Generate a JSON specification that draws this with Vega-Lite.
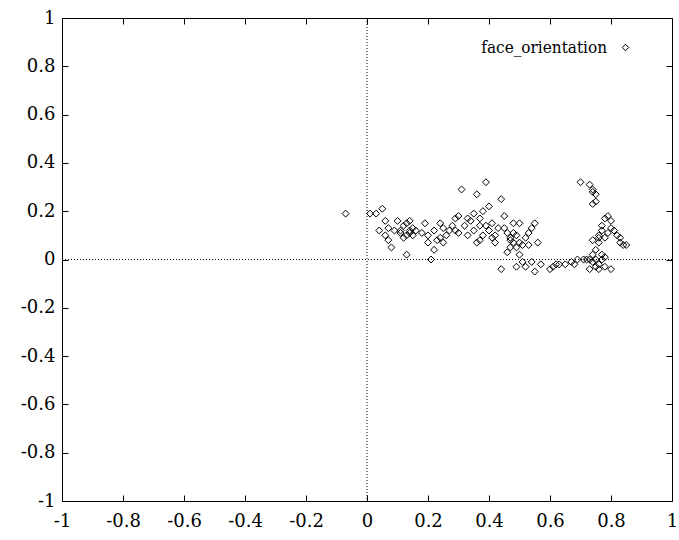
{
  "$schema": "https://vega.github.io/schema/vega-lite/v6.json",
  "width": 610,
  "height": 483,
  "autosize": {"type": "none"},
  "padding": {"left": 62, "top": 18, "right": 7, "bottom": 39},
  "background": "white",
  "config": {
    "view": {"stroke": "black", "strokeWidth": 1},
    "axis": {
      "grid": false,
      "domainColor": "black",
      "tickColor": "black",
      "tickWidth": 1,
      "labelColor": "black",
      "labelFont": "DejaVu Serif",
      "labelFontSize": 18,
      "tickSize": -6,
      "labelExpr": "datum.value + ''",
      "title": null
    }
  },
  "datasets": {
    "pts": [
      {"x": -0.07, "y": 0.19, "series": "face_orientation"},
      {"x": 0.01, "y": 0.19, "series": "face_orientation"},
      {"x": 0.03, "y": 0.19, "series": "face_orientation"},
      {"x": 0.05, "y": 0.21, "series": "face_orientation"},
      {"x": 0.04, "y": 0.12, "series": "face_orientation"},
      {"x": 0.06, "y": 0.10, "series": "face_orientation"},
      {"x": 0.07, "y": 0.08, "series": "face_orientation"},
      {"x": 0.08, "y": 0.05, "series": "face_orientation"},
      {"x": 0.06, "y": 0.16, "series": "face_orientation"},
      {"x": 0.07, "y": 0.13, "series": "face_orientation"},
      {"x": 0.10, "y": 0.16, "series": "face_orientation"},
      {"x": 0.11, "y": 0.12, "series": "face_orientation"},
      {"x": 0.12, "y": 0.14, "series": "face_orientation"},
      {"x": 0.13, "y": 0.10, "series": "face_orientation"},
      {"x": 0.13, "y": 0.15, "series": "face_orientation"},
      {"x": 0.14, "y": 0.11, "series": "face_orientation"},
      {"x": 0.15, "y": 0.13, "series": "face_orientation"},
      {"x": 0.14, "y": 0.16, "series": "face_orientation"},
      {"x": 0.12, "y": 0.09, "series": "face_orientation"},
      {"x": 0.09, "y": 0.12, "series": "face_orientation"},
      {"x": 0.13, "y": 0.02, "series": "face_orientation"},
      {"x": 0.16, "y": 0.12, "series": "face_orientation"},
      {"x": 0.15, "y": 0.10, "series": "face_orientation"},
      {"x": 0.11, "y": 0.11, "series": "face_orientation"},
      {"x": 0.14, "y": 0.12, "series": "face_orientation"},
      {"x": 0.18, "y": 0.11, "series": "face_orientation"},
      {"x": 0.19, "y": 0.15, "series": "face_orientation"},
      {"x": 0.20, "y": 0.10, "series": "face_orientation"},
      {"x": 0.20, "y": 0.07, "series": "face_orientation"},
      {"x": 0.21, "y": 0.00, "series": "face_orientation"},
      {"x": 0.22, "y": 0.12, "series": "face_orientation"},
      {"x": 0.23, "y": 0.08, "series": "face_orientation"},
      {"x": 0.24, "y": 0.09, "series": "face_orientation"},
      {"x": 0.25, "y": 0.07, "series": "face_orientation"},
      {"x": 0.22, "y": 0.04, "series": "face_orientation"},
      {"x": 0.24, "y": 0.15, "series": "face_orientation"},
      {"x": 0.25, "y": 0.13, "series": "face_orientation"},
      {"x": 0.26, "y": 0.10, "series": "face_orientation"},
      {"x": 0.27, "y": 0.12, "series": "face_orientation"},
      {"x": 0.28, "y": 0.14, "series": "face_orientation"},
      {"x": 0.29, "y": 0.17, "series": "face_orientation"},
      {"x": 0.29, "y": 0.12, "series": "face_orientation"},
      {"x": 0.30, "y": 0.18, "series": "face_orientation"},
      {"x": 0.31, "y": 0.29, "series": "face_orientation"},
      {"x": 0.30, "y": 0.11, "series": "face_orientation"},
      {"x": 0.32, "y": 0.14, "series": "face_orientation"},
      {"x": 0.33, "y": 0.17, "series": "face_orientation"},
      {"x": 0.34, "y": 0.16, "series": "face_orientation"},
      {"x": 0.35, "y": 0.19, "series": "face_orientation"},
      {"x": 0.36, "y": 0.27, "series": "face_orientation"},
      {"x": 0.37, "y": 0.14, "series": "face_orientation"},
      {"x": 0.38, "y": 0.10, "series": "face_orientation"},
      {"x": 0.39, "y": 0.32, "series": "face_orientation"},
      {"x": 0.38, "y": 0.20, "series": "face_orientation"},
      {"x": 0.40, "y": 0.22, "series": "face_orientation"},
      {"x": 0.37, "y": 0.17, "series": "face_orientation"},
      {"x": 0.33, "y": 0.10, "series": "face_orientation"},
      {"x": 0.35, "y": 0.12, "series": "face_orientation"},
      {"x": 0.36, "y": 0.07, "series": "face_orientation"},
      {"x": 0.37, "y": 0.08, "series": "face_orientation"},
      {"x": 0.40, "y": 0.12, "series": "face_orientation"},
      {"x": 0.41, "y": 0.15, "series": "face_orientation"},
      {"x": 0.42, "y": 0.10, "series": "face_orientation"},
      {"x": 0.42, "y": 0.07, "series": "face_orientation"},
      {"x": 0.43, "y": 0.13, "series": "face_orientation"},
      {"x": 0.41, "y": 0.09, "series": "face_orientation"},
      {"x": 0.39, "y": 0.14, "series": "face_orientation"},
      {"x": 0.44, "y": 0.25, "series": "face_orientation"},
      {"x": 0.45, "y": 0.18, "series": "face_orientation"},
      {"x": 0.45, "y": 0.13, "series": "face_orientation"},
      {"x": 0.46, "y": 0.11, "series": "face_orientation"},
      {"x": 0.47, "y": 0.09, "series": "face_orientation"},
      {"x": 0.47, "y": 0.05, "series": "face_orientation"},
      {"x": 0.48, "y": 0.07, "series": "face_orientation"},
      {"x": 0.49, "y": 0.10, "series": "face_orientation"},
      {"x": 0.48, "y": 0.15, "series": "face_orientation"},
      {"x": 0.50, "y": 0.15, "series": "face_orientation"},
      {"x": 0.46, "y": 0.03, "series": "face_orientation"},
      {"x": 0.44, "y": -0.04, "series": "face_orientation"},
      {"x": 0.47, "y": 0.08, "series": "face_orientation"},
      {"x": 0.48, "y": 0.11, "series": "face_orientation"},
      {"x": 0.49, "y": 0.05, "series": "face_orientation"},
      {"x": 0.50, "y": 0.07, "series": "face_orientation"},
      {"x": 0.51, "y": 0.06, "series": "face_orientation"},
      {"x": 0.52, "y": 0.09, "series": "face_orientation"},
      {"x": 0.53, "y": 0.11, "series": "face_orientation"},
      {"x": 0.54, "y": 0.13, "series": "face_orientation"},
      {"x": 0.55, "y": 0.15, "series": "face_orientation"},
      {"x": 0.53, "y": 0.06, "series": "face_orientation"},
      {"x": 0.56, "y": 0.07, "series": "face_orientation"},
      {"x": 0.50, "y": 0.02, "series": "face_orientation"},
      {"x": 0.51, "y": -0.01, "series": "face_orientation"},
      {"x": 0.52, "y": -0.03, "series": "face_orientation"},
      {"x": 0.54, "y": -0.01, "series": "face_orientation"},
      {"x": 0.55, "y": -0.05, "series": "face_orientation"},
      {"x": 0.57, "y": -0.02, "series": "face_orientation"},
      {"x": 0.49, "y": -0.03, "series": "face_orientation"},
      {"x": 0.60, "y": -0.04, "series": "face_orientation"},
      {"x": 0.61, "y": -0.03, "series": "face_orientation"},
      {"x": 0.62, "y": -0.02, "series": "face_orientation"},
      {"x": 0.63, "y": -0.02, "series": "face_orientation"},
      {"x": 0.65, "y": -0.02, "series": "face_orientation"},
      {"x": 0.67, "y": -0.01, "series": "face_orientation"},
      {"x": 0.68, "y": -0.02, "series": "face_orientation"},
      {"x": 0.69, "y": 0.00, "series": "face_orientation"},
      {"x": 0.70, "y": 0.32, "series": "face_orientation"},
      {"x": 0.71, "y": 0.00, "series": "face_orientation"},
      {"x": 0.73, "y": 0.31, "series": "face_orientation"},
      {"x": 0.74, "y": 0.29, "series": "face_orientation"},
      {"x": 0.74, "y": 0.28, "series": "face_orientation"},
      {"x": 0.75, "y": 0.27, "series": "face_orientation"},
      {"x": 0.75, "y": 0.24, "series": "face_orientation"},
      {"x": 0.74, "y": 0.23, "series": "face_orientation"},
      {"x": 0.73, "y": 0.00, "series": "face_orientation"},
      {"x": 0.74, "y": -0.01, "series": "face_orientation"},
      {"x": 0.74, "y": 0.02, "series": "face_orientation"},
      {"x": 0.75, "y": 0.04, "series": "face_orientation"},
      {"x": 0.76, "y": 0.07, "series": "face_orientation"},
      {"x": 0.76, "y": 0.09, "series": "face_orientation"},
      {"x": 0.77, "y": 0.12, "series": "face_orientation"},
      {"x": 0.77, "y": 0.14, "series": "face_orientation"},
      {"x": 0.78, "y": 0.17, "series": "face_orientation"},
      {"x": 0.79, "y": 0.18, "series": "face_orientation"},
      {"x": 0.80, "y": 0.16, "series": "face_orientation"},
      {"x": 0.80, "y": 0.13, "series": "face_orientation"},
      {"x": 0.81, "y": 0.12, "series": "face_orientation"},
      {"x": 0.79, "y": 0.11, "series": "face_orientation"},
      {"x": 0.78, "y": 0.09, "series": "face_orientation"},
      {"x": 0.82, "y": 0.10, "series": "face_orientation"},
      {"x": 0.83, "y": 0.09, "series": "face_orientation"},
      {"x": 0.83, "y": 0.07, "series": "face_orientation"},
      {"x": 0.84, "y": 0.06, "series": "face_orientation"},
      {"x": 0.85, "y": 0.06, "series": "face_orientation"},
      {"x": 0.73, "y": -0.04, "series": "face_orientation"},
      {"x": 0.75, "y": -0.03, "series": "face_orientation"},
      {"x": 0.76, "y": -0.02, "series": "face_orientation"},
      {"x": 0.77, "y": 0.00, "series": "face_orientation"},
      {"x": 0.77, "y": 0.02, "series": "face_orientation"},
      {"x": 0.78, "y": 0.01, "series": "face_orientation"},
      {"x": 0.76, "y": -0.04, "series": "face_orientation"},
      {"x": 0.78, "y": -0.03, "series": "face_orientation"},
      {"x": 0.80, "y": -0.04, "series": "face_orientation"},
      {"x": 0.72, "y": 0.00, "series": "face_orientation"},
      {"x": 0.75, "y": 0.00, "series": "face_orientation"},
      {"x": 0.76, "y": 0.10, "series": "face_orientation"},
      {"x": 0.74, "y": 0.08, "series": "face_orientation"}
    ],
    "zero": [{"v": 0}]
  },
  "layer": [
    {
      "data": {"name": "zero"},
      "mark": {"type": "rule", "color": "black", "strokeWidth": 1, "strokeDash": [1, 2]},
      "encoding": {
        "x": {"field": "v", "type": "quantitative", "scale": {"domain": [-1, 1], "nice": false, "zero": false},
              "axis": {"values": [-1, -0.8, -0.6, -0.4, -0.2, 0, 0.2, 0.4, 0.6, 0.8, 1], "labelPadding": 17, "labelFlush": false, "labelOverlap": false}}
      }
    },
    {
      "data": {"name": "zero"},
      "mark": {"type": "rule", "color": "black", "strokeWidth": 1, "strokeDash": [1, 2]},
      "encoding": {
        "y": {"field": "v", "type": "quantitative", "scale": {"domain": [-1, 1], "nice": false, "zero": false},
              "axis": {"values": [-1, -0.8, -0.6, -0.4, -0.2, 0, 0.2, 0.4, 0.6, 0.8, 1], "labelPadding": 13, "labelFlush": false, "labelOverlap": false}}
      }
    },
    {
      "data": {"name": "pts"},
      "mark": {"type": "point", "shape": "diamond", "filled": false, "size": 48, "strokeWidth": 1, "opacity": 1},
      "encoding": {
        "x": {"field": "x", "type": "quantitative", "axis": {"orient": "top", "labels": false, "ticks": true, "tickSize": -6, "values": [-1, -0.8, -0.6, -0.4, -0.2, 0, 0.2, 0.4, 0.6, 0.8, 1]}},
        "y": {"field": "y", "type": "quantitative", "axis": {"orient": "right", "labels": false, "ticks": true, "tickSize": -6, "values": [-1, -0.8, -0.6, -0.4, -0.2, 0, 0.2, 0.4, 0.6, 0.8, 1]}},
        "color": {
          "field": "series", "type": "nominal",
          "scale": {"range": ["black"]},
          "legend": {
            "title": null, "orient": "none", "legendX": 555, "legendY": 21,
            "labelFont": "DejaVu Serif Condensed", "labelFontSize": 17, "labelColor": "black",
            "labelAlign": "right", "labelOffset": -27, "symbolType": "diamond", "symbolSize": 42,
            "symbolStrokeWidth": 1, "padding": 0
          }
        }
      }
    }
  ],
  "resolve": {"axis": {"x": "independent", "y": "independent"}}
}
